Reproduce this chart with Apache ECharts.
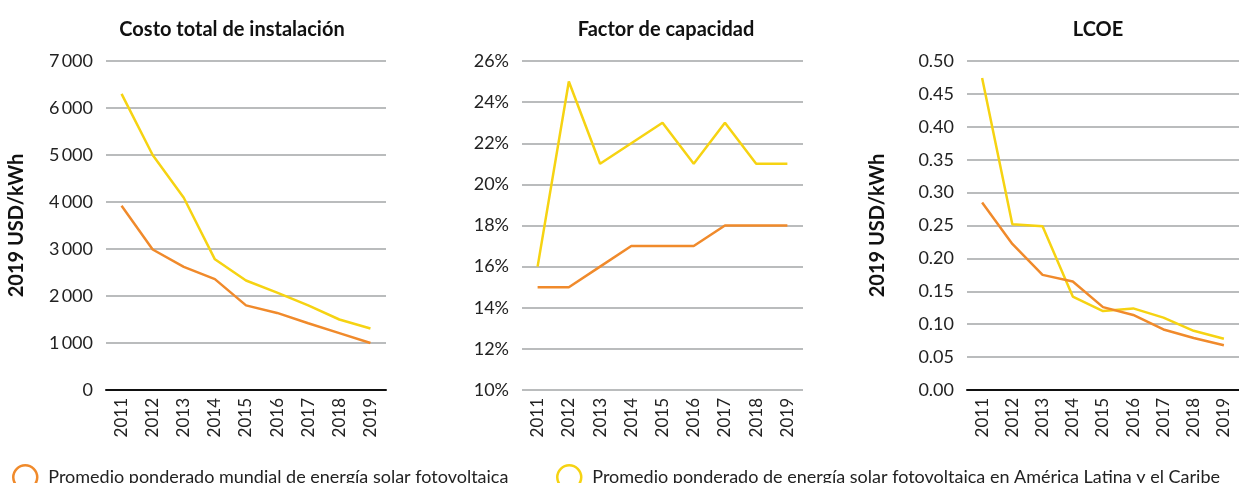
<!DOCTYPE html>
<html>
<head>
<meta charset="utf-8">
<script src="https://cdn.jsdelivr.net/npm/echarts@6/dist/echarts.min.js"></script>
<style>
  html, body { margin: 0; padding: 0; background: #fff; }
  #chart { width: 1239px; height: 483px; }
</style>
</head>
<body>
<div id="chart"></div>
<script>
const years = ["2011", "2012", "2013", "2014", "2015", "2016", "2017", "2018", "2019"];

// Costo total de instalación (2019 USD/kW)
const costWorld = [3920, 2990, 2620, 2360, 1800, 1640, 1420, 1210, 1000];
const costLatam = [6300, 5000, 4090, 2780, 2330, 2070, 1800, 1500, 1310];

// Factor de capacidad (%)
const cfWorld = [15, 15, 16, 17, 17, 17, 18, 18, 18];
const cfLatam = [16, 25, 21, 22, 23, 21, 23, 21, 21];

// LCOE (2019 USD/kWh)
const lcoeWorld = [0.285, 0.222, 0.175, 0.165, 0.126, 0.114, 0.092, 0.079, 0.068];
const lcoeLatam = [0.474, 0.252, 0.249, 0.142, 0.120, 0.124, 0.110, 0.090, 0.078];

const worldName = "Promedio ponderado mundial de energía solar fotovoltaica";
const latamName = "Promedio ponderado de energía solar fotovoltaica en América Latina y el Caribe";

const ORANGE = "#F08A2B";
const YELLOW = "#F6D312";
const FONT = "Lato";
const GRID_LINE = { lineStyle: { color: "#A3A6A7", width: 1.5 } };

const chart = echarts.init(document.getElementById("chart"));

function xAxis(gridIndex, showLine) {
  return {
    type: "category",
    gridIndex,
    data: years,
    boundaryGap: true,
    axisTick: { show: false },
    axisLine: { show: showLine, lineStyle: { color: "#111", width: 2 } },
    axisLabel: { rotate: 90, margin: 8, fontFamily: FONT, fontSize: 17, color: "#222" },
  };
}

function yAxis(gridIndex, min, max, interval, formatter, name) {
  return {
    type: "value",
    gridIndex,
    min,
    max,
    interval,
    name: name || "",
    nameLocation: "middle",
    nameRotate: 90,
    nameGap: 79,
    nameTextStyle: { fontFamily: FONT, fontSize: 20, fontWeight: "bold", color: "#111" },
    axisLine: { show: false },
    axisTick: { show: false },
    splitLine: GRID_LINE,
    axisLabel: { formatter, margin: 13, fontFamily: FONT, fontSize: 18, color: "#222" },
  };
}

function line(name, data, color, idx) {
  return {
    name,
    type: "line",
    xAxisIndex: idx,
    yAxisIndex: idx,
    data,
    symbol: "none",
    lineStyle: { color, width: 2.5 },
    itemStyle: { color },
    z: name === worldName ? 3 : 2,
  };
}

const titleStyle = { fontFamily: FONT, fontSize: 20, fontWeight: "bold", color: "#111" };
const legendText = { fontFamily: FONT, fontSize: 18, color: "#222" };

chart.setOption({
  animation: false,
  title: [
    { text: "Costo total de instalación", left: 227, top: 15, textAlign: "center", textStyle: titleStyle },
    { text: "Factor de capacidad", left: 661, top: 15, textAlign: "center", textStyle: titleStyle },
    { text: "LCOE", left: 1093, top: 15, textAlign: "center", textStyle: titleStyle },
  ],
  legend: [
    {
      left: 7,
      top: 459,
      data: [worldName],
      icon: "circle",
      itemWidth: 36,
      itemHeight: 24,
      itemGap: 10,
      itemStyle: { color: "#fff", borderColor: ORANGE, borderWidth: 2.5 },
      textStyle: legendText,
    },
    {
      left: 551,
      top: 459,
      data: [latamName],
      icon: "circle",
      itemWidth: 36,
      itemHeight: 24,
      itemStyle: { color: "#fff", borderColor: YELLOW, borderWidth: 2.5 },
      textStyle: legendText,
    },
  ],
  grid: [
    { left: 106, top: 61, width: 280, height: 329 },
    { left: 522, top: 61, width: 281, height: 329 },
    { left: 967, top: 61, width: 279, height: 329 },
  ],
  xAxis: [xAxis(0, true), xAxis(1, false), xAxis(2, true)],
  yAxis: [
    yAxis(0, 0, 7000, 1000, (v) => (v >= 1000 ? Math.floor(v / 1000) + "\u2009" + "000" : String(v)), "2019 USD/kWh"),
    yAxis(1, 10, 26, 2, (v) => v + "%"),
    yAxis(2, 0, 0.5, 0.05, (v) => v.toFixed(2), "2019 USD/kWh"),
  ],
  series: [
    line(latamName, costLatam, YELLOW, 0),
    line(worldName, costWorld, ORANGE, 0),
    line(latamName, cfLatam, YELLOW, 1),
    line(worldName, cfWorld, ORANGE, 1),
    line(latamName, lcoeLatam, YELLOW, 2),
    line(worldName, lcoeWorld, ORANGE, 2),
  ],
});

window.addEventListener("resize", () => chart.resize());
</script>
</body>
</html>
